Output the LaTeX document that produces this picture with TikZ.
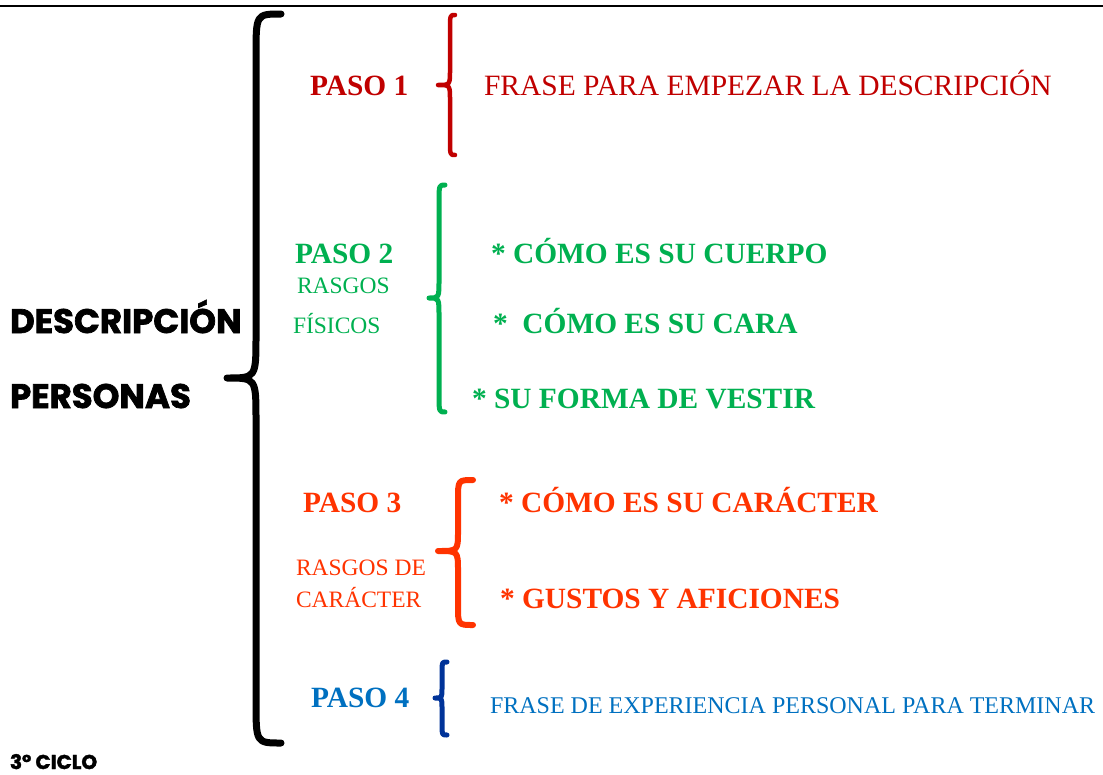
\documentclass[tikz,border=0pt]{standalone}
\usepackage{fontspec}
\setmainfont{Liberation Serif}
\newfontfamily\gothic[BoldFeatures={FakeBold=2}]{Poppins}
\definecolor{pasored}{HTML}{C00000}
\definecolor{pasogreen}{HTML}{00B050}
\definecolor{pasoorange}{HTML}{FF3300}
\definecolor{pasoblue}{HTML}{0070C0}
\definecolor{bracenavy}{HTML}{003399}
\newcommand\drawbrace[8]{%
  \draw[#1] (#2,#3) .. controls (#4,#3) .. (#4,{#3+#8}) -- (#4,{#6-#8})
    .. controls (#4,#6) .. (#5,#6) .. controls (#4,#6) .. (#4,{#6+#8})
    -- (#4,{#7-#8}) .. controls (#4,#7) .. (#2,#7);}
\tikzset{
  lbl/.style={anchor=base west, inner sep=0pt, outer sep=0pt},
  headtxt/.style={lbl, font=\bfseries\fontsize{29.4}{29.4}\selectfont},
  itemtxt/.style={lbl, font=\bfseries\fontsize{29.4}{29.4}\selectfont},
  subtxt/.style={lbl, font=\fontsize{23.5}{23.5}\selectfont},
  bigtitle/.style={lbl, font=\gothic\bfseries\fontsize{34}{34}\selectfont},
  bracestyle/.style={line cap=round, line join=round},
}
\begin{document}
\begin{tikzpicture}[x=1pt,y=-1pt]
\useasboundingbox (0,0) rectangle (1103,774);
% top rule
\draw[line width=2.5pt] (0,6) -- (1103,6);
% braces
\drawbrace{bracestyle, line width=7pt, black}{281}{14}{256}{227}{378}{743}{42}
\drawbrace{bracestyle, line width=4.5pt, pasored}{455}{15}{450}{438}{85}{155}{15}
\drawbrace{bracestyle, line width=5pt, pasogreen}{445}{185}{439}{429}{298}{412}{18}
\drawbrace{bracestyle, line width=6pt, pasoorange}{473}{480}{458}{438}{551}{625}{20}
\drawbrace{bracestyle, line width=5pt, bracenavy}{447}{662}{442}{435}{698}{735}{10}
% title
\node[bigtitle] (t1) at (10,333) {DESCRIPCIÓN};
\node[bigtitle] (t2) at (10,408) {PERSONAS};
\node[lbl, font=\gothic\bfseries\fontsize{20}{20}\selectfont] (ciclo) at (10,769) {3º CICLO};
% paso 1
\node[headtxt, text=pasored] (p1) at (310,95) {PASO 1};
\node[lbl, font=\fontsize{29.5}{29.5}\selectfont, text=pasored] (p1a) at (484,95) {FRASE PARA EMPEZAR LA DESCRIPCIÓN};
% paso 2
\node[headtxt, text=pasogreen] (p2) at (295,263) {PASO 2};
\node[subtxt, text=pasogreen] (p2s1) at (297,293) {RASGOS};
\node[subtxt, text=pasogreen] (p2s2) at (293,333) {FÍSICOS};
\node[itemtxt, text=pasogreen] (p2a) at (491,263) {* CÓMO ES SU CUERPO};
\node[itemtxt, text=pasogreen] (p2b) at (493,333) {*\ \ CÓMO ES SU CARA};
\node[itemtxt, text=pasogreen] (p2c) at (472,408) {* SU FORMA DE VESTIR};
% paso 3
\node[headtxt, text=pasoorange] (p3) at (303,512) {PASO 3};
\node[subtxt, text=pasoorange] (p3s1) at (296,575) {RASGOS DE};
\node[subtxt, text=pasoorange] (p3s2) at (296,607) {CARÁCTER};
\node[itemtxt, text=pasoorange] (p3a) at (499,512) {* CÓMO ES SU CARÁCTER};
\node[itemtxt, text=pasoorange] (p3b) at (500,608) {* GUSTOS Y AFICIONES};
% paso 4
\node[headtxt, text=pasoblue] (p4) at (311,707) {PASO 4};
\node[lbl, font=\fontsize{24}{24}\selectfont, text=pasoblue] (p4a) at (490,713) {FRASE DE EXPERIENCIA PERSONAL PARA TERMINAR};
\end{tikzpicture}
\end{document}
